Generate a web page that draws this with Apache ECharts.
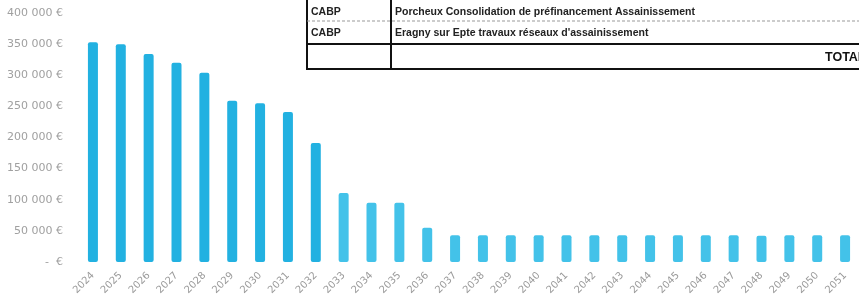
<!DOCTYPE html>
<html>
<head>
<meta charset="utf-8">
<script src="https://cdn.jsdelivr.net/npm/echarts@6/dist/echarts.min.js"></script>
<style>
  html, body { margin: 0; padding: 0; background: #fff; }
  #chart { width: 859px; height: 305px; }
</style>
</head>
<body>
<div id="chart"></div>
<script>
// annees d'echeance
const years = ['2024', '2025', '2026', '2027', '2028', '2029', '2030', '2031', '2032', '2033',
    '2034', '2035', '2036', '2037', '2038', '2039', '2040', '2041', '2042', '2043',
    '2044', '2045', '2046', '2047', '2048', '2049', '2050', '2051'];

// annuites en euros
const annuites = [353000, 350000, 334000, 320000, 304000, 259000, 255000, 241000, 191000, 111000,
    95000, 95000, 55000, 43000, 43000, 43000, 43000, 43000, 43000, 43000,
    43000, 43000, 43000, 43000, 42000, 43000, 43000, 43000];

// lignes du tableau des emprunts
const preteurs = ['CABP', 'CABP'];
const libelles = [
    'Porcheux Consolidation de préfinancement Assainissement',
    'Eragny sur Epte travaux réseaux d\'assainissement'
];
const totalLabel = 'TOTAL';

const fmtEuro = (v) => {
    if (v === 0) return '-  €';
    return String(v).replace(/\B(?=(\d{3})+(?!\d))/g, ' ') + ' €';
};

const chart = echarts.init(document.getElementById('chart'));

const tableFont = 'bold 10.5px "Liberation Sans", Arial, sans-serif';
const rowY = [12, 33];
const tableGraphics = [
    { type: 'rect', shape: { x: 307, y: -5, width: 570, height: 74 },
      style: { fill: '#fff', stroke: '#111', lineWidth: 2 }, z: 100 },
    { type: 'line', shape: { x1: 391, y1: -5, x2: 391, y2: 69 },
      style: { stroke: '#111', lineWidth: 2 }, z: 101 },
    { type: 'line', shape: { x1: 307, y1: 21, x2: 870, y2: 21 },
      style: { stroke: '#999', lineWidth: 1, lineDash: [3, 2] }, z: 101 },
    { type: 'line', shape: { x1: 307, y1: 44, x2: 870, y2: 44 },
      style: { stroke: '#111', lineWidth: 2 }, z: 101 }
];
preteurs.forEach((p, i) => {
    tableGraphics.push({ type: 'text', x: 311, y: rowY[i], z: 102,
        style: { text: p, font: tableFont, fill: '#222', verticalAlign: 'middle' } });
    tableGraphics.push({ type: 'text', x: 395, y: rowY[i], z: 102,
        style: { text: libelles[i], font: tableFont, fill: '#222', verticalAlign: 'middle' } });
});
tableGraphics.push({ type: 'text', x: 825, y: 58, z: 102,
    style: { text: totalLabel, font: 'bold 12.5px "Liberation Sans", Arial, sans-serif', fill: '#111', verticalAlign: 'middle' } });

const option = {
    animation: false,
    grid: { left: 79, top: 13, height: 249, width: 790, containLabel: false },
    xAxis: {
        type: 'category',
        data: years,
        axisLine: { show: false },
        axisTick: { show: false },
        axisLabel: {
            rotate: 45,
            interval: 0,
            margin: 12,
            color: '#9a9a9a',
            fontFamily: 'DejaVu Sans',
            fontSize: 10
        }
    },
    yAxis: {
        type: 'value',
        min: 0,
        max: 400000,
        interval: 50000,
        splitLine: { show: false },
        axisLine: { show: false },
        axisTick: { show: false },
        axisLabel: {
            margin: 16,
            color: '#a0a0a0',
            fontFamily: 'DejaVu Sans',
            fontSize: 11,
            formatter: fmtEuro
        }
    },
    series: [{
        type: 'bar',
        data: annuites,
        barWidth: 10,
        itemStyle: {
            borderRadius: 2,
            color: (p) => p.dataIndex < 9 ? '#22b1e1' : '#43c2e9'
        }
    }],
    graphic: tableGraphics
};

chart.setOption(option);
</script>
</body>
</html>
